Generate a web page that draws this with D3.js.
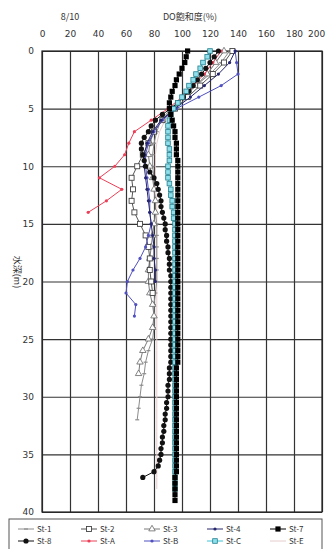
<!DOCTYPE html>
<html>
<head>
<meta charset="utf-8">
<script src="https://cdn.jsdelivr.net/npm/d3@7"></script>
<style>
  body { margin: 0; background: #fff; }
  text { font-family: "Noto Sans CJK JP", "DejaVu Sans", sans-serif; fill: #333; }
</style>
</head>
<body>
<div id="chart"></div>
<script>
// depth grids (m)
var depthWhole = [0,1,2,3,4,5,6,7,8,9,10,11,12,13,14,15,16,17,18,19,20,
  21,22,23,24,25,26,27,28,29,30,31,32,33,34,35,36,37,38,39,40]
var depthHalf = [0,0.5,1,1.5,2,2.5,3,3.5,4,4.5,5,5.5,6,6.5,7,7.5,8,8.5,9,9.5,
  10,10.5,11,11.5,12,12.5,13,13.5,14,14.5,15,15.5,16,16.5,17,17.5,18,18.5,19,19.5,
  20,20.5,21,21.5,22,22.5,23,23.5,24,24.5,25,25.5,26,26.5,27,27.5,28,28.5,29,29.5,
  30,30.5,31,31.5,32,32.5,33,33.5,34,34.5,35,35.5,36,36.5,37,37.5,38,38.5,39,39.5]

// DO saturation (%) per station
var st1 = [134,128,120,110,100,92,85,82,80,79,79,80,80,81,81,82,82,82,82,82,82,81,80,80,80,79,76,74,73,71,70,69,68]
var st2 = [136,130,122,113,104,95,86,80,76,72,68,64,65,64,66,70,74,76,77,77,78,79]
var st3 = [130,124,118,110,101,93,86,80,77,76,77,79,80,81,81,80,79,78,77,76,76,77,79,80,79,76,72,70,69]
var st4 = [138,134,126,116,106,95,85,79,75,73,73,74,75,76,77,78,79,80,80,81,81]
var st7 = [104,103,102,100,98,96,95,93,92,91,91,
  92,93,94,95,95,96,96,96,97,97,
  97,97,97,97,97,97,97,97,97,97,
  97,97,97,97,97,97,97,97,97,97,
  97,97,97,97,97,97,97,97,97,97,
  97,97,97,97,96,96,96,96,96,96,
  96,96,96,96,96,96,96,96,96,96,
  96,96,96,95,95,95,95,95]
var st8 = [126,123,120,117,114,111,108,105,101,97,92,
  86,81,78,76,73,71,71,72,73,74,
  77,80,82,83,84,85,85,86,87,88,
  88,89,89,90,90,91,91,91,92,92,
  92,92,92,92,92,92,92,92,92,92,
  92,92,92,92,91,91,91,90,90,90,
  89,89,88,88,87,87,86,86,85,85,
  84,83,80,72]
var stA = [128,122,116,108,100,90,78,66,62,59,52,41,57,46,33]
var stB = [138,139,140,128,112,96,86,80,76,74,74,75,76,77,77,78,76,74,70,65,61,60,67,66]
var stC = [120,118,115,113,110,108,105,103,100,97,94,
  92,91,90,90,90,90,91,91,91,90,
  90,90,91,92,92,93,93,94,94,95,
  95,95,95,95,95,95,95,95,95,95,
  95,95,95,95,95,95,95,95,95,95,
  95,95,95,95,95,95,95,95,95,95,
  95,95,95,95,95,95,95,95,95,95,
  95,95,95,95,95,95]
var stE = [130,124,118,110,102,94,88,84,82,81,81,81,81,82,82,82,82,82,82,82,
  82,82,82,82,82,82,82,82,82,82,82,82,82,82,82,82,82,82,82]

var xTicks = [0,20,40,60,80,100,120,140,160,180,200]
var yTicks = [0,5,10,15,20,25,30,35,40]

// name, values, depth grid, line colour, marker type
var series = [
  {name: "St-E", vals: stE, depth: depthWhole, color: "#e6cccc", mark: "none"},
  {name: "St-1", vals: st1, depth: depthWhole, color: "#8c8c8c", mark: "dash"},
  {name: "St-3", vals: st3, depth: depthWhole, color: "#7a7a7a", mark: "tri"},
  {name: "St-2", vals: st2, depth: depthWhole, color: "#555", mark: "osq"},
  {name: "St-A", vals: stA, depth: depthWhole, color: "#ec4058", mark: "dot"},
  {name: "St-B", vals: stB, depth: depthWhole, color: "#5050c0", mark: "dot"},
  {name: "St-4", vals: st4, depth: depthWhole, color: "#26266e", mark: "dot"},
  {name: "St-8", vals: st8, depth: depthHalf, color: "#111", mark: "circle"},
  {name: "St-C", vals: stC, depth: depthHalf, color: "#3cc4d6", mark: "csq"},
  {name: "St-7", vals: st7, depth: depthHalf, color: "#000", mark: "sq"}
]
var legendOrder = ["St-1","St-2","St-3","St-4","St-7","St-8","St-A","St-B","St-C","St-E"]

var margin = {top: 51, right: 4, bottom: 37, left: 42},
    width = 326 - margin.left - margin.right,
    height = 549 - margin.top - margin.bottom;

var root = d3.select("#chart")
  .append("svg")
    .attr("width", 326)
    .attr("height", 549)
var svg = root.append("g")
    .attr("transform", "translate(" + margin.left + "," + margin.top + ")");

var x = d3.scaleLinear().domain([0, 200]).range([0, width]);
var y = d3.scaleLinear().domain([0, 40]).range([0, height]);

// grid
svg.append("g")
  .attr("transform", "translate(0," + height + ")")
  .call(d3.axisBottom(x).tickValues(xTicks).tickSize(height).tickFormat(""))
  .call(function(g) { g.select(".domain").remove() })
  .selectAll("line")
    .attr("transform", "translate(0," + (-height) + ")")
    .attr("y1", 0).attr("y2", height)
    .attr("stroke", "#333").attr("stroke-width", 1.2)
svg.append("g")
  .call(d3.axisRight(y).tickValues(yTicks).tickSize(width).tickFormat(""))
  .call(function(g) { g.select(".domain").remove() })
  .selectAll("line")
    .attr("stroke", "#333").attr("stroke-width", 1.2)

svg.append("rect")
  .attr("width", width).attr("height", height)
  .attr("fill", "none").attr("stroke", "#222").attr("stroke-width", 1.2)

// tick labels
var xAxis = svg.append("g")
  .call(d3.axisTop(x).tickValues(xTicks).tickSize(0).tickPadding(14))
xAxis.select(".domain").remove()
xAxis.selectAll("text").attr("font-size", 9).attr("fill", "#444")
  .style("font-family", "'DejaVu Sans', sans-serif")
// last label sits on the edge, keep it inside
xAxis.selectAll("text").filter(function(d) { return d == 200 })
  .attr("text-anchor", "end").attr("dx", "0.3em")

var yAxis = svg.append("g")
  .call(d3.axisLeft(y).tickValues(yTicks).tickSize(0).tickPadding(8))
yAxis.select(".domain").remove()
yAxis.selectAll("text").attr("font-size", 9).attr("fill", "#444")
  .style("font-family", "'DejaVu Sans', sans-serif")

// titles
root.append("text").attr("x", 70).attr("y", 20).attr("text-anchor", "middle")
  .attr("font-size", 9).text("8/10")
root.append("text").attr("x", 190).attr("y", 20).attr("text-anchor", "middle")
  .attr("font-size", 9).text("DO飽和度(%)")
root.append("text").attr("transform", "translate(14,272) rotate(90)")
  .attr("text-anchor", "middle").attr("font-size", 9).text("水深(m)")

function drawMark(g, s, px, py) {
  if (s.mark == "sq") {
    g.append("rect").attr("x", px - 2.6).attr("y", py - 2.6).attr("width", 5.2).attr("height", 5.2).attr("fill", "#000")
  } else if (s.mark == "csq") {
    g.append("rect").attr("x", px - 2.3).attr("y", py - 2.3).attr("width", 4.6).attr("height", 4.6)
      .attr("fill", "#8fe0ec").attr("stroke", "#237f8e").attr("stroke-width", 0.8)
  } else if (s.mark == "osq") {
    g.append("rect").attr("x", px - 2.5).attr("y", py - 2.5).attr("width", 5).attr("height", 5)
      .attr("fill", "#fff").attr("stroke", "#444").attr("stroke-width", 0.9)
  } else if (s.mark == "tri") {
    g.append("path").attr("d", d3.symbol(d3.symbolTriangle, 18)())
      .attr("transform", "translate(" + px + "," + py + ")")
      .attr("fill", "#fff").attr("stroke", "#666").attr("stroke-width", 0.8)
  } else if (s.mark == "circle") {
    g.append("circle").attr("cx", px).attr("cy", py).attr("r", 2.6).attr("fill", "#111")
  } else if (s.mark == "dot") {
    g.append("circle").attr("cx", px).attr("cy", py).attr("r", 1.6).attr("fill", s.color)
  } else if (s.mark == "dash") {
    g.append("line").attr("x1", px - 2).attr("x2", px + 2).attr("y1", py).attr("y2", py)
      .attr("stroke", s.color).attr("stroke-width", 1.2)
  }
}

var line = d3.line()
  .x(function(d) { return x(d.v) })
  .y(function(d) { return y(d.d) })

series.forEach(function(s) {
  var data = s.vals.map(function(v, i) { return {d: s.depth[i], v: v} })
  var g = svg.append("g")
  g.append("path").datum(data)
    .attr("d", line)
    .attr("fill", "none")
    .attr("stroke", s.color)
    .attr("stroke-width", 1)
  data.forEach(function(p) { drawMark(g, s, x(p.v), y(p.d)) })
})

// legend
var leg = root.append("g")
leg.append("rect").attr("x", 9).attr("y", 519).attr("width", 313).attr("height", 34)
  .attr("fill", "#fff").attr("stroke", "#555").attr("stroke-width", 1)
legendOrder.forEach(function(name, i) {
  var s = series.find(function(d) { return d.name == name })
  var lx = 18 + (i % 5) * 63
  var ly = i < 5 ? 529 : 541
  leg.append("line").attr("x1", lx).attr("x2", lx + 16).attr("y1", ly).attr("y2", ly)
    .attr("stroke", s.color).attr("stroke-width", 1)
  drawMark(leg, s, lx + 8, ly)
  leg.append("text").attr("x", lx + 19).attr("y", ly + 3).attr("font-size", 8).text(name)
})
</script>
</body>
</html>
